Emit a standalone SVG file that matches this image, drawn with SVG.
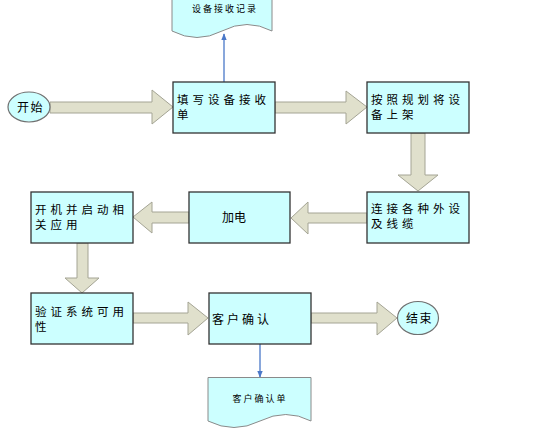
<svg xmlns="http://www.w3.org/2000/svg" width="542" height="435" viewBox="0 0 542 435">
<defs>
<style>
.box{fill:#CCFFFF;stroke:#333333;stroke-width:1.3}
.doc{fill:#CCFFFF;stroke:#8A8A8A;stroke-width:1}
.term{fill:#CCFFFF;stroke:#707070;stroke-width:1.2}
.fat{fill:#E0E0CC;stroke:#A4A494;stroke-width:1}
.blue{stroke:#4A78C8;stroke-width:1.3;fill:none}
text{font-family:"Noto Sans CJK SC","Noto Sans",sans-serif;fill:#000}
.t{font-size:11.5px;letter-spacing:4px}
.s{font-size:9px;letter-spacing:2px;text-anchor:middle}
</style>
<marker id="ah" viewBox="0 0 10 10" refX="9" refY="5" markerWidth="7" markerHeight="7" markerUnits="userSpaceOnUse" orient="auto">
<path d="M0,1 L10,5 L0,9 z" fill="#4A78C8"/>
</marker>
</defs>
<rect width="542" height="435" fill="#FFFFFF"/>
<g id="connectors">
<polygon class="fat" points="50,102 152,102 152,90 173,107 152,124 152,113 50,113"/>
<polygon class="fat" points="275,102 346,102 346,91 367,107 346,124 346,113 275,113"/>
<polygon class="fat" points="411,133 425,133 425,175 438,175 418,191 398,175 411,175"/>
<polygon class="fat" points="367,213 308,213 308,202 291,218 308,234 308,223 367,223"/>
<polygon class="fat" points="189,212 152,212 152,202 133,217 152,233 152,223 189,223"/>
<polygon class="fat" points="77,243 88,243 88,278 99,278 82,293 65,278 77,278"/>
<polygon class="fat" points="133,313 188,313 188,302 208,318 188,335 188,323 133,323"/>
<polygon class="fat" points="311,313 377,313 377,302 397,318 377,335 377,323 311,323"/>
<line class="blue" x1="224" y1="82" x2="224" y2="34" marker-end="url(#ah)"/>
<line class="blue" x1="260" y1="344" x2="260" y2="377" marker-end="url(#ah)"/>
</g>
<g id="doc-receive">
<path class="doc" d="M172,-5 L272,-5 L272,31 Q247,18 222,31 Q197,44 172,31 Z"/>
<text class="s" x="225" y="11.5">设备接收记录</text>
</g>
<g id="start">
<ellipse class="term" cx="29" cy="107" rx="21" ry="15"/>
<text x="17" y="112" font-size="12" letter-spacing="1.5">开始</text>
</g>
<g id="fill-form">
<rect class="box" x="173" y="82" width="102" height="51"/>
<text class="t" x="177" y="104">填写设备接收</text>
<text class="t" x="177" y="119">单</text>
</g>
<g id="rack">
<rect class="box" x="367" y="82" width="102" height="51"/>
<text class="t" x="371" y="104">按照规划将设</text>
<text class="t" x="371" y="119">备上架</text>
</g>
<g id="connect">
<rect class="box" x="367" y="192" width="102" height="51"/>
<text class="t" x="371" y="213">连接各种外设</text>
<text class="t" x="371" y="228">及线缆</text>
</g>
<g id="power">
<rect class="box" x="189" y="192" width="101" height="51"/>
<text x="222" y="221.5" font-size="12">加电</text>
</g>
<g id="boot">
<rect class="box" x="31" y="192" width="102" height="51"/>
<text class="t" x="35" y="214">开机并启动相</text>
<text class="t" x="35" y="229">关应用</text>
</g>
<g id="verify">
<rect class="box" x="31" y="293" width="102" height="51"/>
<text class="t" x="35" y="315.5">验证系统可用</text>
<text class="t" x="35" y="330.5">性</text>
</g>
<g id="confirm">
<rect class="box" x="209" y="293" width="102" height="51"/>
<text x="212" y="323.5" font-size="12" letter-spacing="3">客户确认</text>
</g>
<g id="end">
<ellipse class="term" cx="418" cy="318" rx="20.5" ry="16.5"/>
<text x="406" y="322.5" font-size="12" letter-spacing="1.5">结束</text>
</g>
<g id="doc-confirm">
<path class="doc" d="M208,377.5 L311,377.5 L311,421 Q286,408 260,421 Q234,434 208,421 Z"/>
<text class="s" x="260" y="401.5">客户确认单</text>
</g>
</svg>
